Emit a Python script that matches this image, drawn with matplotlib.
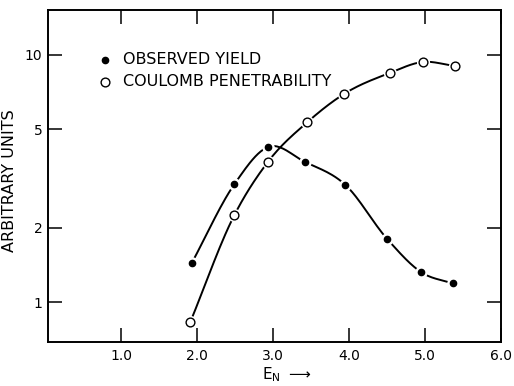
import numpy as np
import matplotlib
matplotlib.use('Agg')
import matplotlib.pyplot as plt

# data (x = E_N, y = arbitrary units, log scale)
yield_x = [1.93, 2.49, 2.93, 3.42, 3.95, 4.50, 4.95, 5.36]
yield_y = [1.44, 3.00, 4.24, 3.69, 2.98, 1.80, 1.32, 1.19]
coul_x = [1.91, 2.49, 2.93, 3.45, 3.93, 4.53, 4.97, 5.39]
coul_y = [0.83, 2.25, 3.69, 5.35, 6.95, 8.45, 9.37, 9.02]

xticks = [1.0, 2.0, 3.0, 4.0, 5.0, 6.0]
xtick_labels = ['1.0', '2.0', '3.0', '4.0', '5.0', '6.0']
yticks = [1, 2, 5, 10]
ytick_labels = ['1', '2', '5', '10']


def smooth(x, y, n=25):
    # hand-drawn-style curve: Catmull-Rom (Hermite) segments in log space
    x = np.asarray(x, float)
    y = np.log(np.asarray(y, float))
    m = np.gradient(y, x)
    xs_all, ys_all = [], []
    for i in range(len(x) - 1):
        h = x[i + 1] - x[i]
        t = np.linspace(0, 1, n)
        h00 = 2 * t**3 - 3 * t**2 + 1
        h10 = t**3 - 2 * t**2 + t
        h01 = -2 * t**3 + 3 * t**2
        h11 = t**3 - t**2
        xs_all.append(x[i] + t * h)
        ys_all.append(h00 * y[i] + h10 * h * m[i] + h01 * y[i + 1] + h11 * h * m[i + 1])
    return np.concatenate(xs_all), np.exp(np.concatenate(ys_all))


fig = plt.figure(figsize=(5.14, 3.86), dpi=100)
ax = fig.add_axes([0.0934, 0.114, 0.882, 0.860])

for xs, ys in (smooth(yield_x, yield_y), smooth(coul_x, coul_y)):
    ax.plot(xs, ys, color='black', lw=1.4, zorder=2)

# white halos leave small gaps in the curves around each point
ax.plot(yield_x, yield_y, 'o', ms=9, color='white', mec='none', zorder=3)
ax.plot(coul_x, coul_y, 'o', ms=9.5, color='white', mec='none', zorder=3)
ax.plot(yield_x, yield_y, 'o', ms=4.5, color='black', zorder=4)
ax.plot(coul_x, coul_y, 'o', ms=6.3, mfc='white', mec='black', mew=1.0, zorder=4)

ax.set_yscale('log')
ax.set_xlim(0.04, 6.0)
ax.set_ylim(0.69, 15.2)
ax.set_xticks(xticks)
ax.set_xticklabels(xtick_labels)
ax.set_yticks(yticks)
ax.set_yticklabels(ytick_labels)
ax.yaxis.set_minor_locator(matplotlib.ticker.NullLocator())
ax.tick_params(direction='in', length=10, width=1.1, top=True, right=True,
               labelsize=10)
ax.tick_params(axis='y', pad=4)
ax.tick_params(axis='x', pad=5)
for s in ax.spines.values():
    s.set_linewidth(1.4)

ax.set_ylabel('ARBITRARY UNITS', fontsize=11.5)
ax.yaxis.set_label_coords(-0.068, 0.485)

# legend drawn by hand, as in the original figure
ax.plot([0.79], [9.55], 'o', ms=4.5, color='black')
ax.plot([0.79], [7.8], 'o', ms=6.3, mfc='white', mec='black', mew=1.0)
ax.text(1.03, 9.55, 'OBSERVED YIELD', fontsize=11.5, va='center')
ax.text(1.03, 7.8, 'COULOMB PENETRABILITY', fontsize=11.5, va='center')

fig.text(0.51, 0.018, r'E$_\mathrm{N}$ $\longrightarrow$', fontsize=11,
         va='baseline')

fig.savefig('out.png', dpi=100)
